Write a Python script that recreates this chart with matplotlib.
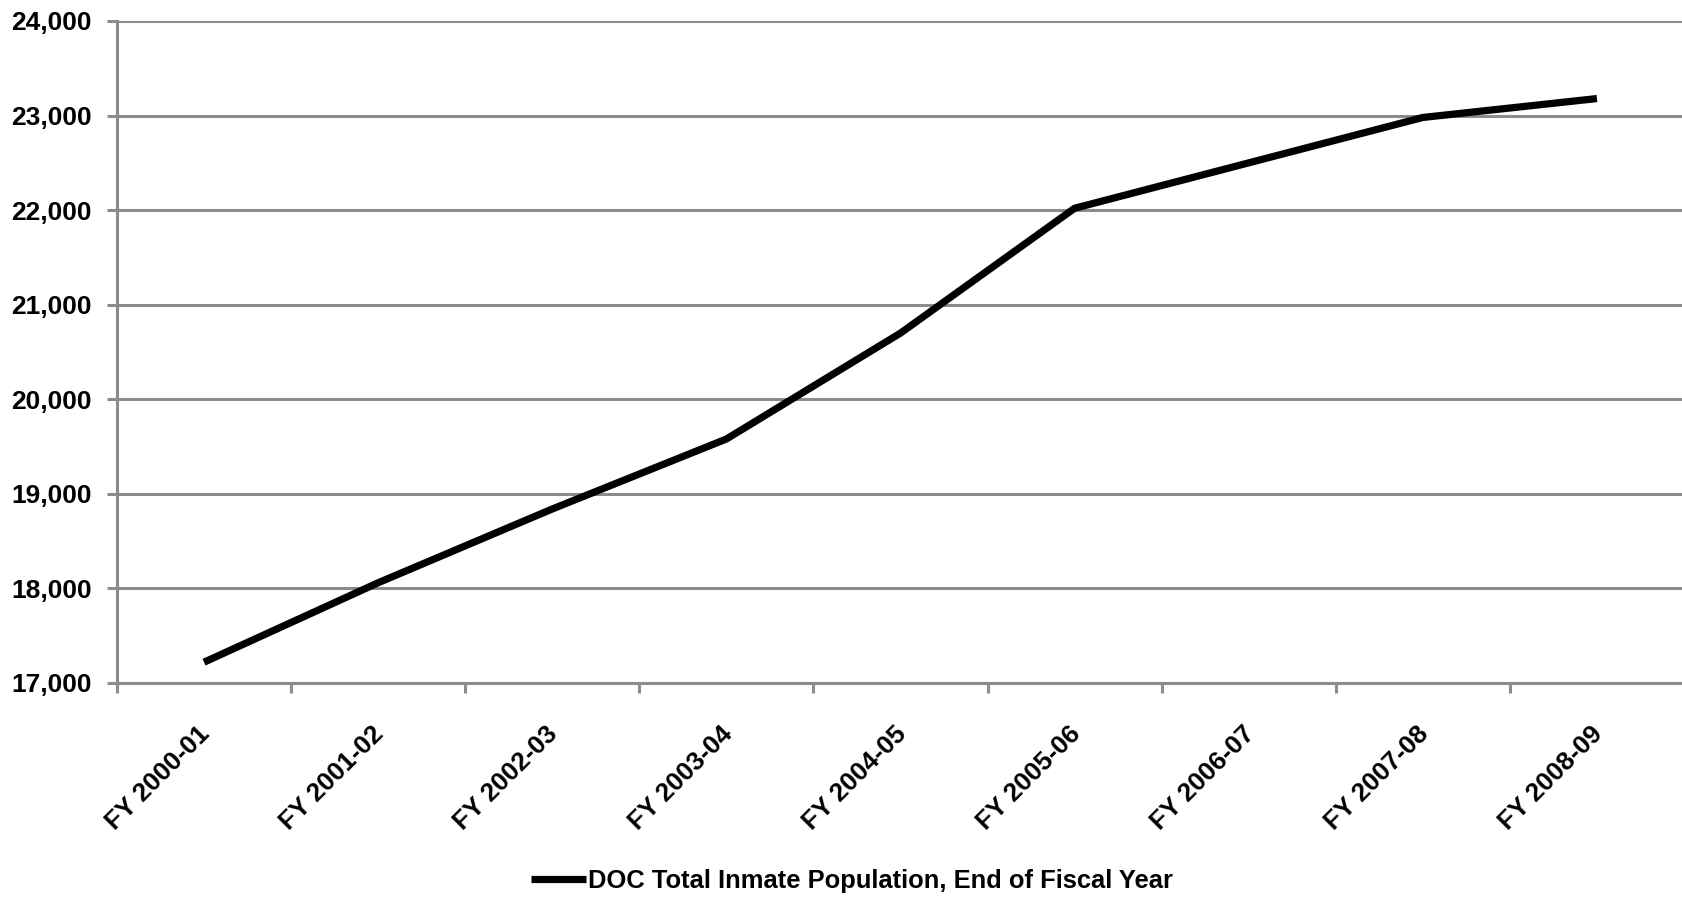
import matplotlib
matplotlib.use("Agg")
import matplotlib.pyplot as plt
from matplotlib.ticker import FuncFormatter, FixedLocator

categories = ["FY 2000-01", "FY 2001-02", "FY 2002-03", "FY 2003-04", "FY 2004-05",
              "FY 2005-06", "FY 2006-07", "FY 2007-08", "FY 2008-09"]
population = [17220, 18060, 18840, 19580, 20700, 22020, 22500, 22980, 23180]
series_label = "DOC Total Inmate Population, End of Fiscal Year"
y_ticks = [17000, 18000, 19000, 20000, 21000, 22000, 23000, 24000]

plt.rcParams['font.family'] = ['Liberation Sans', 'DejaVu Sans']
W, H = 1682, 897
fig = plt.figure(figsize=(W / 100, H / 100), dpi=100)
ax = fig.add_axes([117 / W, 1 - 683 / H, (1684 - 117) / W, (683 - 21) / H])

grid_col = "#8c8c8c"
x = list(range(len(categories)))
ax.plot(x, population, color="black", lw=5.2, solid_capstyle="butt", label=series_label, zorder=3)

ax.set_xlim(-0.5, len(categories) - 0.5)
ax.set_ylim(17000, 24000)
ax.set_yticks(y_ticks)
ax.yaxis.set_major_formatter(FuncFormatter(lambda v, p: f"{int(v):,}"))
ax.grid(axis="y", color=grid_col, lw=2.2, zorder=1)
ax.set_axisbelow(True)

label_shift = 0.06  # small horizontal nudge of the rotated labels
ax.set_xticks([i + label_shift for i in x])
ax.set_xticklabels(categories, rotation=45, ha="right", va="top", fontsize=18.7, fontweight="bold")
ax.xaxis.set_minor_locator(FixedLocator([i - 0.5 for i in range(len(categories) + 1)]))
ax.tick_params(axis="x", which="major", length=0, pad=28)
ax.tick_params(axis="x", which="minor", length=7, width=2.2, color=grid_col)
ax.tick_params(axis="y", which="major", length=7, width=2.2, color=grid_col, pad=11, labelsize=19)
for lab in ax.get_yticklabels():
    lab.set_fontweight("bold")

for s in ["top", "right"]:
    ax.spines[s].set_visible(False)
for s in ["left", "bottom"]:
    ax.spines[s].set_color(grid_col)
    ax.spines[s].set_linewidth(2.2)

leg = fig.legend(loc="center", bbox_to_anchor=(852 / W, 1 - 881 / H), frameon=False,
                 prop={"size": 18.4, "weight": "bold"}, handlelength=2.15, handletextpad=0.1)

fig.savefig("out.png", dpi=100)
